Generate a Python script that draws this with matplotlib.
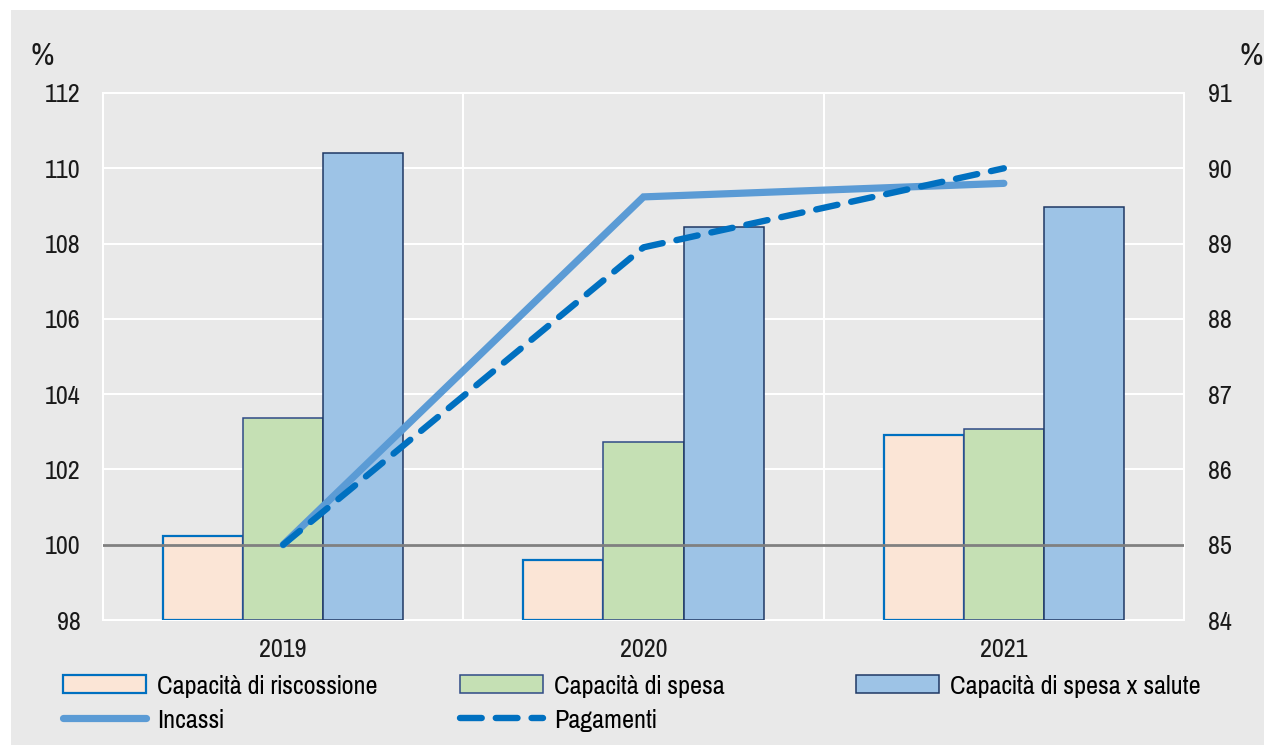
import matplotlib
matplotlib.use("Agg")
import matplotlib.pyplot as plt
import numpy as np
from matplotlib.patches import Rectangle

plt.rcParams['font.family'] = ['Pragati Narrow', 'Archivo Narrow', 'Liberation Sans', 'DejaVu Sans']

years = ["2019", "2020", "2021"]
riscossione = [100.23, 99.59, 102.91]
spesa = [103.37, 102.73, 103.07]
salute = [110.41, 108.44, 108.97]
incassi = [85.0, 89.62, 89.8]
pagamenti = [85.0, 88.95, 90.0]

left_ticks = [98, 100, 102, 104, 106, 108, 110, 112]
right_ticks = [84, 85, 86, 87, 88, 89, 90, 91]

BG = "#e9e9e9"
FS = 20.5

fig = plt.figure(figsize=(12.64, 7.45), dpi=100, facecolor="white")
fig.patches.append(Rectangle((11 / 1264, 0), 1, 1 - 10 / 745, transform=fig.transFigure,
                             facecolor=BG, edgecolor="none", zorder=-10))

ax = fig.add_axes([103 / 1264, 1 - 620 / 745, (1184 - 103) / 1264, (620 - 93) / 745])
ax.set_facecolor(BG)
x = np.arange(len(years))
w = 2 / 9
b1 = ax.bar(x - w, [v - 98 for v in riscossione], w, bottom=98, color="#fbe5d6",
            edgecolor="#0070c0", linewidth=1.6, label="Capacità di riscossione", zorder=3)
b2 = ax.bar(x, [v - 98 for v in spesa], w, bottom=98, color="#c5e0b4",
            edgecolor="#2f4a86", linewidth=1.1, label="Capacità di spesa", zorder=3)
b3 = ax.bar(x + w, [v - 98 for v in salute], w, bottom=98, color="#9dc3e6",
            edgecolor="#1f3864", linewidth=1.1, label="Capacità di spesa x salute", zorder=3)
ax.axhline(100, color="#808080", linewidth=2.0, zorder=4)

ax.set_xlim(-0.5, 2.5)
ax.set_ylim(98, 112)
ax.set_yticks(left_ticks)
ax.set_xticks(x)
ax.set_xticklabels(years)
ax.set_xticks([0.5, 1.5], minor=True)
ax.grid(axis="y", color="white", linewidth=1.5, zorder=0)
ax.grid(axis="x", which="minor", color="white", linewidth=1.5, zorder=0)
ax.tick_params(axis="both", which="both", length=0, labelsize=FS, colors="#1a1a1a")
ax.tick_params(axis="y", pad=16)
ax.tick_params(axis="x", pad=13)
for s in ax.spines.values():
    s.set_color("white")
    s.set_linewidth(1.5)

ax2 = ax.twinx()
ax2.set_ylim(84, 91)
ax2.set_yticks(right_ticks)
ax2.tick_params(axis="y", length=0, labelsize=FS, pad=17, colors="#1a1a1a")
for s in ax2.spines.values():
    s.set_visible(False)
l1, = ax2.plot(x, incassi, color="#5b9bd5", linewidth=5.2, solid_capstyle="round",
               solid_joinstyle="miter", label="Incassi", zorder=5)
l2, = ax2.plot(x, pagamenti, color="#0070c0", linewidth=4.6, linestyle=(0, (3.4, 2.2)),
               dash_capstyle="round", label="Pagamenti", zorder=6)

fig.text(30 / 1264, 1 - 56 / 745, "%", fontsize=25, va="center", ha="left", color="#1a1a1a")
fig.text(1263 / 1264, 1 - 56 / 745, "%", fontsize=25, va="center", ha="right", color="#1a1a1a")

common = dict(frameon=False, fontsize=FS, handlelength=2.9, handleheight=0.62,
              handletextpad=0.4, borderpad=0, borderaxespad=0, labelspacing=0.36,
              loc="upper left")
fig.legend([b1, l1], ["Capacità di riscossione", "Incassi"],
           bbox_to_anchor=(63 / 1264, 1 - 675 / 745), **common)
fig.legend([b2, l2], ["Capacità di spesa", "Pagamenti"],
           bbox_to_anchor=(460 / 1264, 1 - 675 / 745), **common)
fig.legend([b3], ["Capacità di spesa x salute"],
           bbox_to_anchor=(856 / 1264, 1 - 675 / 745), **common)

fig.savefig("out.png", dpi=100, facecolor=fig.get_facecolor())
